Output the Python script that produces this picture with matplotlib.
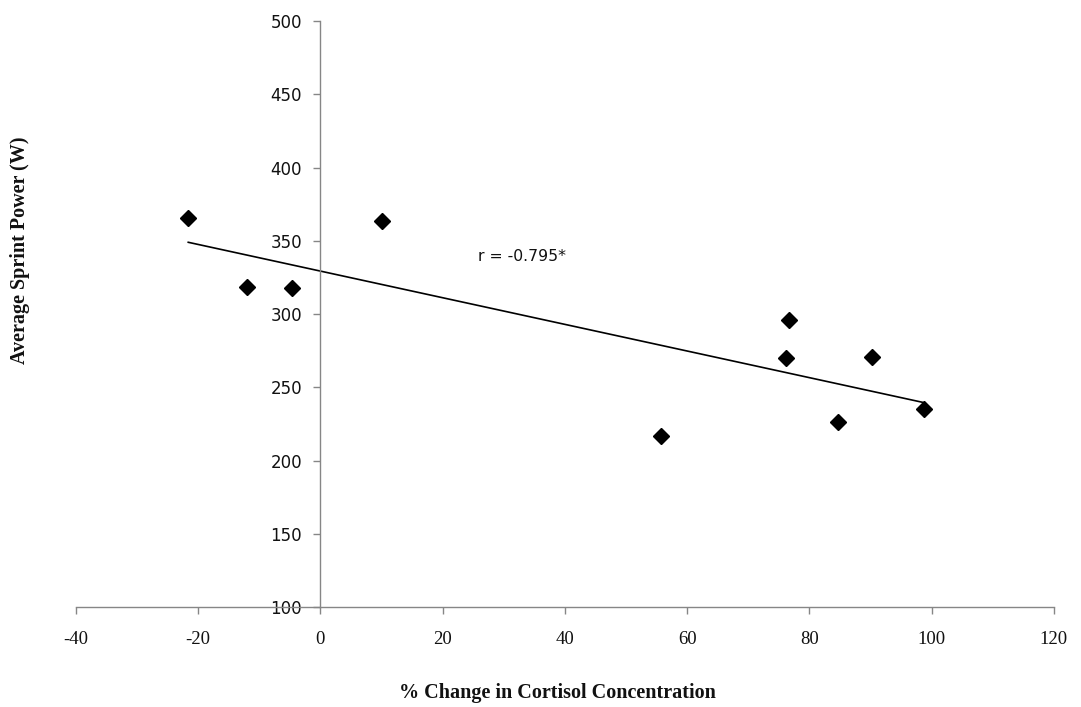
import numpy as np
import matplotlib
matplotlib.use("Agg")
import matplotlib.pyplot as plt

# % change in cortisol vs. average sprint power
cortisol_change = [-21.6, -12.0, -4.6, 10.1, 55.7, 76.1, 76.6, 84.7, 90.2, 98.7]
sprint_power = [365.3, 318.6, 318.0, 363.3, 216.9, 269.8, 295.9, 226.5, 270.9, 235.2]
x_ticks = [-40, -20, 0, 20, 40, 60, 80, 100, 120]
y_ticks = [100, 150, 200, 250, 300, 350, 400, 450, 500]
r_label = "r = -0.795*"

plt.rcParams["font.family"] = ["Liberation Serif", "DejaVu Serif"]
plt.rcParams["axes.unicode_minus"] = False
axis_grey = "#868686"
text_col = "#111111"
sans = ["DejaVu Sans"]

fig = plt.figure(figsize=(10.81, 7.07), dpi=100)
ax = fig.add_axes([0.0701, 0.1414, 0.9048, 0.8289])

x = np.array(cortisol_change)
y = np.array(sprint_power)
ax.plot(x, y, linestyle="none", marker="D", markersize=8.2,
        color="black", zorder=3)

# least-squares trend line across the data range
slope, intercept = np.polyfit(x, y, 1)
xs = np.array([x.min(), x.max()])
ax.plot(xs, slope * xs + intercept, color="black", linewidth=1.2, zorder=2)

ax.text(25.8, 339, r_label, fontsize=11.3, family=sans, color=text_col,
        ha="left", va="center")

ax.set_xlim(-40, 120)
ax.set_ylim(100, 500)
ax.set_xticks(x_ticks)
ax.set_yticks(y_ticks)

for side in ("top", "right"):
    ax.spines[side].set_visible(False)
ax.spines["left"].set_position(("data", 0))
for side in ("left", "bottom"):
    ax.spines[side].set_color(axis_grey)
    ax.spines[side].set_linewidth(1.0)

ax.tick_params(axis="x", direction="out", length=5, width=1.0,
               color=axis_grey, labelsize=13.5, labelcolor=text_col, pad=12)
ax.tick_params(axis="y", direction="out", length=5, width=1.0,
               color=axis_grey, labelsize=12, labelcolor=text_col, pad=8)
for lbl in ax.get_yticklabels():
    lbl.set_family(sans)

fig.text(557 / 1081, 1 - 693 / 707, "% Change in Cortisol Concentration",
         fontsize=14.5, fontweight="bold", color=text_col,
         ha="center", va="center")
fig.text(20 / 1081, 1 - 250 / 707, "Average Sprint Power (W)",
         fontsize=14.5, fontweight="bold", color=text_col,
         ha="center", va="center", rotation=90)

fig.savefig("out.png", dpi=100)
